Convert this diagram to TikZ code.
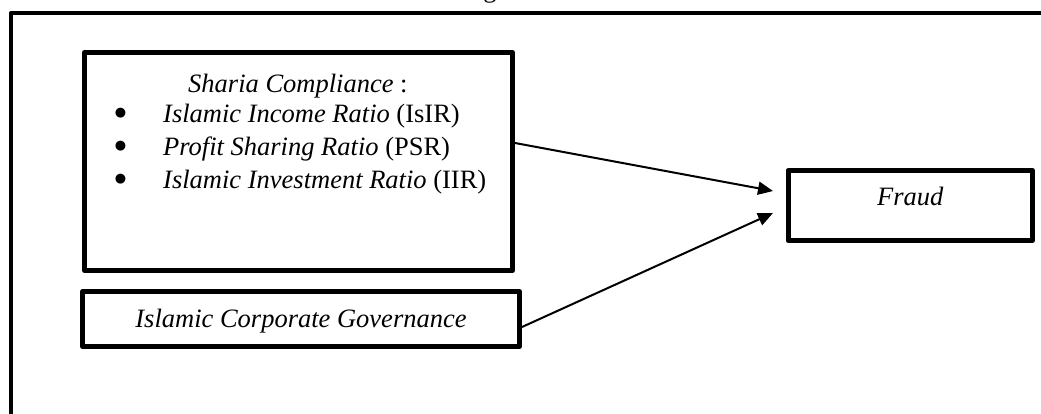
\documentclass[tikz,border=0pt]{standalone}
\usepackage{fontspec}
\setmainfont{Liberation Serif}
\newfontfamily\symfont{DejaVu Sans}
\usetikzlibrary{arrows.meta}
\begin{document}
\begin{tikzpicture}[x=1pt,y=-1pt,
  boxstyle/.style={draw, line width=5pt, line join=round, rectangle, inner sep=0pt,
    font=\fontsize{26.5}{30}\selectfont\itshape},
  lbl/.style={inner sep=0pt, font=\fontsize{26.5}{30}\selectfont},
  bul/.style={inner sep=0pt, font=\symfont\fontsize{13}{14}\selectfont, anchor=base},
  arr/.style={line width=2pt, -{Triangle[length=15pt,width=13pt]}},
  outerframe/.style={line width=4.5pt, line join=round}]
\useasboundingbox (0,0) rectangle (1041,414);
% outer frame (cropped on right and bottom)
\draw[outerframe] (11,430) -- (11,13) -- (1060,13);
% partially visible heading glyph
\node[lbl, anchor=base] (heading) at (490,-2) {g};
% boxes
\node[boxstyle, minimum width=428pt, minimum height=218pt] (sharia) at (298.5,161.5) {};
\node[boxstyle, minimum width=437pt, minimum height=55pt, text height=17pt, text depth=0pt]
  (gov) at (301,319) {Islamic Corporate Governance};
\node[boxstyle, minimum width=244.5pt, minimum height=70pt, text height=10pt, text depth=10pt]
  (fraud) at (910.25,205.5) {Fraud};
% sharia content
\node[lbl, anchor=base west] (title) at (188,93) {\textit{Sharia Compliance} :};
\node[bul] (d1) at (120.5,117) {●};
\node[bul] (d2) at (120.5,150) {●};
\node[bul] (d3) at (120.5,182.5) {●};
\node[lbl, anchor=base west] (b1) at (163,123) {\textit{Islamic Income Ratio} (IsIR)};
\node[lbl, anchor=base west] (b2) at (163,156) {\textit{Profit Sharing Ratio} (PSR)};
\node[lbl, anchor=base west] (b3) at (163,188.5) {\textit{Islamic Investment Ratio} (IIR)};
% arrows
\draw[arr] ([yshift=18.5pt]sharia.east) -- ([xshift=-12.5pt,yshift=14.5pt]fraud.west);
\draw[arr] ([yshift=-8pt]gov.east) -- ([xshift=-12.5pt,yshift=-7.5pt]fraud.west);
\end{tikzpicture}
\end{document}
